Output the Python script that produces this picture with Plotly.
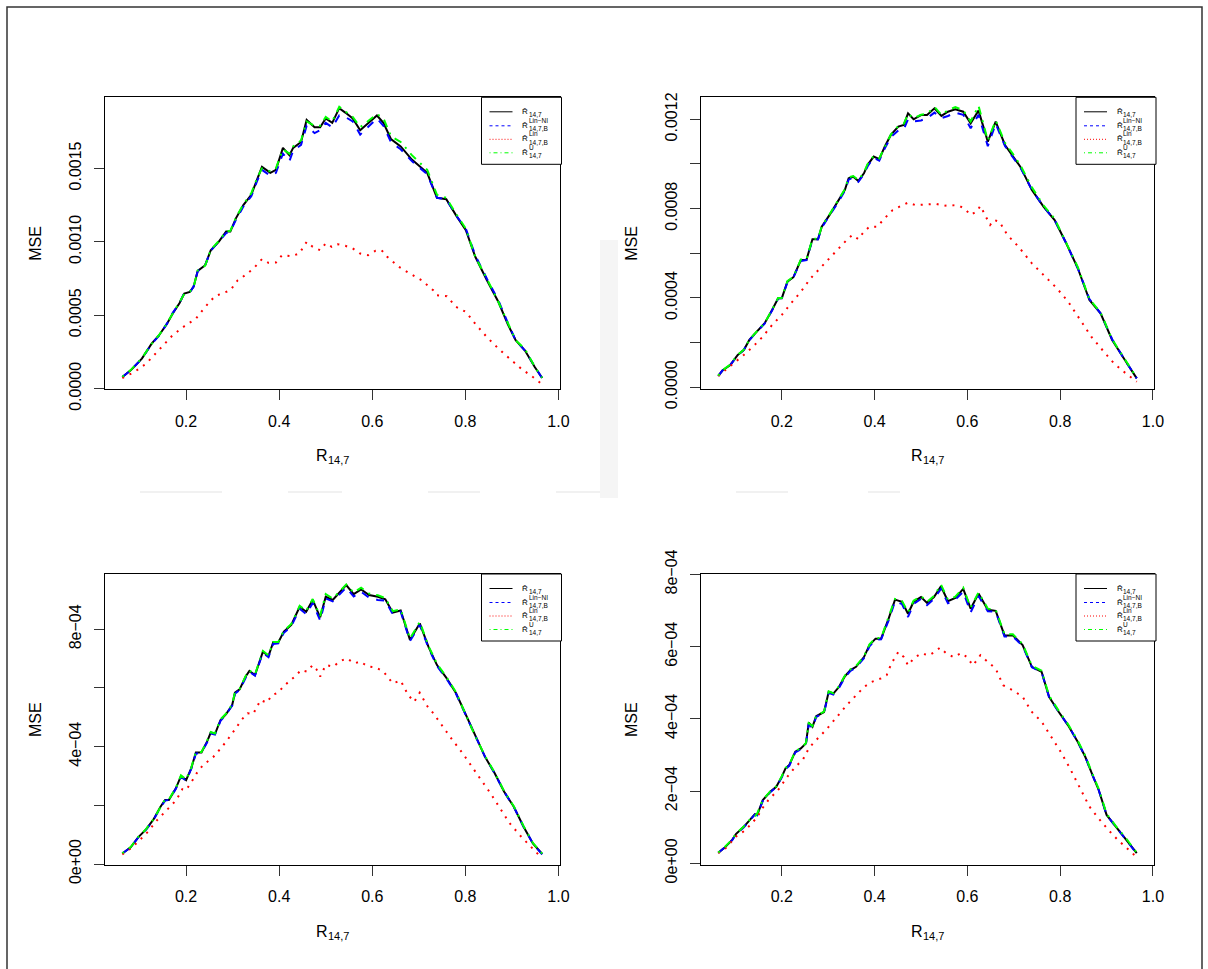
import plotly.graph_objects as go

# ---------------- data (MSE values in units of 1e-4) ----------------
SCALE = 1e-4

xA = [0.063,0.081,0.105,0.126,0.142,0.159,0.171,0.186,0.196,0.208,0.216,0.225,0.241,0.253,0.270,0.286,0.295,0.307,0.323,0.340,0.352,0.363,0.381,0.393,0.408,0.422,0.430,0.447,0.459,0.476,0.488,0.500,0.514,0.529,0.542,0.558,0.574,0.591,0.610,0.624,0.640,0.661,0.685,0.718,0.739,0.759,0.780,0.801,0.821,0.846,0.871,0.891,0.908,0.928,0.949,0.965]
A_black = [0.80,1.25,2.05,3.07,3.64,4.43,5.11,5.84,6.48,6.59,6.93,8.02,8.41,9.43,10.0,10.7,10.7,11.6,12.5,13.2,14.2,15.1,14.7,14.9,16.4,15.9,16.4,16.8,18.3,17.8,17.8,18.4,18.1,19.1,18.8,18.4,17.6,18.1,18.6,18.1,17.0,16.5,15.6,14.7,13.0,12.9,11.8,10.8,9.0,7.4,5.9,4.4,3.3,2.6,1.48,0.73]
A_blue = [0.80,1.25,2.05,3.05,3.62,4.43,5.15,5.84,6.52,6.55,6.95,8.00,8.41,9.40,10.0,10.6,10.7,11.5,12.4,13.1,14.1,14.9,14.5,14.7,16.0,15.5,16.2,16.6,17.9,17.4,17.6,18.1,17.8,18.6,18.5,18.2,17.3,17.8,18.4,17.9,16.8,16.3,15.5,14.6,13.0,12.9,11.8,10.9,9.1,7.5,6.0,4.5,3.3,2.6,1.5,0.70]
A_green = [0.82,1.27,2.08,3.05,3.66,4.45,5.10,5.86,6.45,6.62,6.90,8.05,8.38,9.45,10.05,10.7,10.75,11.65,12.55,13.3,14.3,15.0,14.8,15.0,16.3,16.0,16.5,16.9,18.2,17.9,17.9,18.5,18.2,19.2,18.9,18.5,17.8,18.2,18.7,18.4,17.2,16.8,15.9,14.9,13.2,13.0,11.9,10.9,9.0,7.5,5.9,4.5,3.3,2.7,1.5,0.75]
xA_red = [0.063,0.089,0.114,0.147,0.171,0.196,0.221,0.241,0.262,0.295,0.311,0.332,0.348,0.363,0.377,0.393,0.406,0.426,0.443,0.459,0.472,0.488,0.500,0.513,0.525,0.542,0.558,0.574,0.591,0.607,0.620,0.632,0.657,0.681,0.706,0.731,0.739,0.760,0.780,0.801,0.821,0.846,0.871,0.895,0.920,0.945,0.965]
A_red = [0.73,1.14,1.70,2.84,3.64,4.25,4.77,5.57,6.30,6.70,7.39,7.84,8.30,8.82,8.57,8.59,9.09,9.02,9.20,10.0,9.66,9.43,9.89,9.66,9.84,9.73,9.55,9.20,9.09,9.39,9.43,8.98,8.30,7.84,7.39,6.70,6.36,6.30,5.57,5.23,4.43,3.52,2.73,2.05,1.36,0.80,0.30]

xB = [0.063,0.072,0.089,0.105,0.118,0.130,0.146,0.163,0.179,0.192,0.200,0.212,0.225,0.241,0.253,0.266,0.278,0.286,0.303,0.319,0.336,0.344,0.354,0.365,0.377,0.385,0.398,0.410,0.422,0.435,0.451,0.463,0.472,0.484,0.500,0.513,0.529,0.544,0.558,0.574,0.591,0.607,0.624,0.644,0.661,0.681,0.698,0.714,0.739,0.764,0.788,0.813,0.838,0.863,0.887,0.912,0.937,0.965]
B_black = [0.51,0.75,1.00,1.45,1.67,2.12,2.49,2.87,3.46,3.99,3.99,4.73,4.93,5.70,5.70,6.63,6.63,7.19,7.72,8.24,8.84,9.36,9.43,9.24,9.58,9.96,10.33,10.21,10.78,11.30,11.67,11.75,12.27,12.00,12.19,12.19,12.49,12.15,12.34,12.45,12.34,11.82,12.39,11.00,11.90,10.85,10.33,9.88,8.84,8.09,7.49,6.45,5.33,3.91,3.31,2.12,1.30,0.40]
B_blue = [0.51,0.75,1.00,1.43,1.67,2.10,2.49,2.85,3.44,3.97,3.99,4.70,4.93,5.66,5.70,6.60,6.63,7.15,7.70,8.20,8.80,9.30,9.40,9.20,9.55,9.90,10.28,10.15,10.70,11.20,11.50,11.55,12.00,11.90,11.95,12.05,12.30,12.05,12.15,12.30,12.20,11.60,12.20,10.80,11.80,10.80,10.30,9.85,8.84,8.09,7.49,6.45,5.33,3.95,3.31,2.15,1.30,0.40]
B_green = [0.52,0.76,1.02,1.46,1.68,2.13,2.50,2.88,3.47,4.00,4.00,4.75,4.95,5.72,5.72,6.65,6.65,7.20,7.75,8.27,8.87,9.40,9.46,9.28,9.62,10.00,10.36,10.25,10.80,11.32,11.70,11.80,12.25,12.05,12.20,12.25,12.55,12.20,12.40,12.55,12.40,11.90,12.60,11.05,11.95,10.95,10.45,9.95,8.95,8.15,7.55,6.50,5.38,3.95,3.35,2.15,1.32,0.42]
xB_red = [0.063,0.081,0.097,0.118,0.138,0.159,0.179,0.200,0.221,0.241,0.262,0.282,0.303,0.323,0.340,0.352,0.365,0.377,0.389,0.406,0.418,0.439,0.455,0.472,0.488,0.509,0.533,0.550,0.566,0.583,0.595,0.607,0.620,0.628,0.636,0.649,0.657,0.669,0.686,0.710,0.739,0.768,0.793,0.817,0.842,0.867,0.891,0.916,0.941,0.965]
B_red = [0.51,0.81,1.07,1.45,1.82,2.27,2.79,3.24,3.79,4.28,4.88,5.33,5.78,6.22,6.60,6.82,6.63,6.97,7.19,7.19,7.49,7.94,8.09,8.27,8.16,8.19,8.21,8.13,8.16,8.12,7.97,7.72,7.87,8.12,7.79,7.27,7.49,7.42,6.82,6.30,5.55,4.96,4.43,3.84,3.03,2.27,1.67,1.07,0.63,0.25]

xC = [0.063,0.081,0.097,0.114,0.130,0.145,0.155,0.163,0.178,0.189,0.200,0.211,0.221,0.233,0.245,0.253,0.262,0.274,0.286,0.299,0.305,0.315,0.328,0.336,0.348,0.365,0.377,0.387,0.398,0.410,0.426,0.444,0.458,0.472,0.488,0.500,0.515,0.529,0.544,0.560,0.576,0.593,0.612,0.628,0.644,0.661,0.681,0.702,0.721,0.739,0.760,0.780,0.801,0.821,0.842,0.863,0.883,0.904,0.925,0.945,0.965]
C_black = [0.36,0.57,0.91,1.18,1.52,1.95,2.18,2.18,2.58,3.00,2.86,3.26,3.80,3.80,4.17,4.48,4.43,4.91,5.11,5.42,5.84,5.95,6.39,6.58,6.44,7.24,7.09,7.55,7.55,7.92,8.15,8.77,8.60,9.00,8.41,9.11,9.00,9.23,9.51,9.20,9.36,9.17,9.11,9.02,8.57,8.64,7.64,8.20,7.39,6.78,6.33,5.82,5.08,4.34,3.66,3.09,2.47,1.95,1.27,0.70,0.34]
C_blue = [0.36,0.57,0.90,1.17,1.50,1.93,2.16,2.18,2.56,2.97,2.84,3.24,3.76,3.80,4.14,4.45,4.41,4.88,5.10,5.40,5.80,5.93,6.35,6.55,6.42,7.20,7.05,7.50,7.52,7.88,8.10,8.70,8.52,8.90,8.30,9.05,8.95,9.18,9.42,9.12,9.28,9.08,9.00,8.98,8.52,8.60,7.60,8.15,7.36,6.75,6.30,5.80,5.08,4.34,3.66,3.09,2.47,1.95,1.27,0.70,0.33]
C_green = [0.37,0.58,0.92,1.19,1.53,1.96,2.20,2.20,2.60,3.02,2.88,3.28,3.82,3.82,4.19,4.50,4.45,4.93,5.13,5.44,5.86,5.97,6.41,6.60,6.46,7.26,7.11,7.57,7.57,7.95,8.18,8.80,8.63,9.03,8.45,9.20,9.05,9.27,9.53,9.25,9.42,9.22,9.16,9.06,8.62,8.68,7.68,8.25,7.42,6.82,6.36,5.85,5.11,4.36,3.69,3.11,2.49,1.97,1.29,0.72,0.35]
xC_red = [0.063,0.081,0.097,0.118,0.138,0.159,0.179,0.192,0.200,0.212,0.225,0.237,0.258,0.270,0.286,0.307,0.319,0.332,0.344,0.360,0.373,0.385,0.398,0.410,0.422,0.435,0.447,0.459,0.472,0.480,0.488,0.500,0.517,0.529,0.545,0.562,0.574,0.591,0.607,0.624,0.644,0.661,0.677,0.690,0.702,0.719,0.731,0.751,0.772,0.793,0.813,0.834,0.854,0.875,0.895,0.920,0.945,0.965]
C_red = [0.33,0.53,0.76,1.10,1.50,1.84,2.18,2.55,2.52,2.81,3.15,3.38,3.64,3.86,4.17,4.63,4.91,5.14,5.11,5.59,5.50,5.76,5.84,6.07,6.22,6.41,6.61,6.56,6.78,6.64,6.39,6.78,6.73,6.90,7.01,6.84,6.90,6.73,6.70,6.56,6.16,6.25,5.76,5.53,5.84,5.36,5.14,4.68,4.23,3.80,3.32,2.86,2.41,1.90,1.39,0.93,0.53,0.19]

xD = [0.063,0.077,0.093,0.101,0.118,0.134,0.142,0.147,0.159,0.175,0.188,0.200,0.208,0.216,0.229,0.241,0.252,0.258,0.266,0.274,0.291,0.301,0.311,0.323,0.336,0.348,0.360,0.377,0.389,0.402,0.414,0.430,0.444,0.459,0.472,0.484,0.500,0.513,0.528,0.543,0.558,0.574,0.591,0.607,0.624,0.644,0.661,0.680,0.698,0.719,0.739,0.760,0.776,0.797,0.817,0.838,0.854,0.871,0.883,0.900,0.920,0.941,0.965]
D_black = [0.29,0.44,0.65,0.81,1.01,1.24,1.36,1.34,1.75,1.98,2.12,2.40,2.63,2.72,3.09,3.18,3.32,3.89,3.78,4.07,4.19,4.75,4.70,4.88,5.18,5.35,5.44,5.71,6.04,6.22,6.22,6.77,7.30,7.24,6.91,7.24,7.37,7.21,7.37,7.67,7.26,7.35,7.60,7.05,7.47,7.02,6.99,6.31,6.31,6.04,5.44,5.30,4.61,4.19,3.82,3.36,2.95,2.40,2.03,1.34,1.01,0.69,0.28]
D_blue = [0.29,0.44,0.64,0.80,1.00,1.23,1.35,1.33,1.73,1.97,2.11,2.38,2.61,2.70,3.07,3.16,3.30,3.85,3.75,4.05,4.17,4.72,4.67,4.85,5.15,5.33,5.42,5.68,6.01,6.19,6.20,6.72,7.25,7.18,6.82,7.18,7.32,7.15,7.32,7.60,7.20,7.30,7.52,6.95,7.40,6.98,6.96,6.28,6.28,6.02,5.43,5.29,4.60,4.19,3.82,3.36,2.95,2.40,2.03,1.34,1.01,0.69,0.27]
D_green = [0.30,0.45,0.66,0.82,1.02,1.25,1.30,1.38,1.76,1.99,2.13,2.41,2.64,2.73,3.10,3.19,3.33,3.88,3.80,4.08,4.20,4.76,4.71,4.90,5.20,5.37,5.46,5.73,6.06,6.24,6.24,6.80,7.32,7.26,6.95,7.27,7.40,7.24,7.40,7.72,7.30,7.38,7.63,7.08,7.50,7.05,7.02,6.34,6.34,6.07,5.47,5.33,4.64,4.22,3.85,3.39,2.98,2.43,2.06,1.37,1.03,0.71,0.29]
xD_red = [0.063,0.081,0.101,0.122,0.138,0.147,0.155,0.171,0.192,0.212,0.229,0.245,0.258,0.270,0.295,0.319,0.340,0.360,0.377,0.393,0.414,0.426,0.436,0.451,0.463,0.472,0.484,0.500,0.517,0.529,0.541,0.554,0.570,0.587,0.599,0.612,0.628,0.640,0.661,0.677,0.698,0.719,0.739,0.760,0.780,0.801,0.821,0.842,0.863,0.883,0.904,0.924,0.945,0.965]
D_red = [0.28,0.44,0.74,0.92,1.15,1.27,1.47,1.75,2.03,2.40,2.67,2.86,3.18,3.36,3.69,4.06,4.38,4.65,4.88,5.02,5.12,5.21,5.53,5.85,5.71,5.48,5.67,5.81,5.76,5.85,5.97,5.82,5.71,5.82,5.71,5.48,5.76,5.62,5.39,4.93,4.79,4.61,4.19,3.92,3.50,3.09,2.63,2.12,1.57,1.24,0.92,0.65,0.41,0.17]

# ticks (labelled ticks + unlabelled minor ticks)
x_tickvals = [0.2, 0.4, 0.6, 0.8, 1.0]
x_ticktext = ["0.2", "0.4", "0.6", "0.8", "1.0"]
yA_tickvals = [0, 0.0005, 0.0010, 0.0015]
yA_ticktext = ["0.0000", "0.0005", "0.0010", "0.0015"]
yA_minor = []
yB_tickvals = [0, 0.0004, 0.0008, 0.0012]
yB_ticktext = ["0.0000", "0.0004", "0.0008", "0.0012"]
yB_minor = [0.0002, 0.0006, 0.0010]
yC_tickvals = [0, 0.0004, 0.0008]
yC_ticktext = ["0e+00", "4e\u221204", "8e\u221204"]
yC_minor = [0.0002, 0.0006]
yD_tickvals = [0, 0.0002, 0.0004, 0.0006, 0.0008]
yD_ticktext = ["0e+00", "2e\u221204", "4e\u221204", "6e\u221204", "8e\u221204"]
yD_minor = []

legend_sups = ["", "Lin\u2212NI", "Lin", "U"]
legend_subs = ["14,7", "14,7,B", "14,7,B", "14,7"]

# ---------------- layout helpers ----------------
W, H = 1208, 969
FONT = "Liberation Sans, Arial, Helvetica, sans-serif"


def fx(p):
    return p / W


def fy(p):
    return 1 - p / H


def txt(text, x, y, size, xanchor="left", angle=0):
    return dict(text=text, x=fx(x), y=fy(y), xref="paper", yref="paper", showarrow=False,
                xanchor=xanchor, yanchor="middle", textangle=angle, borderpad=0,
                font=dict(family=FONT, size=size, color="black"))


panels = [
    dict(x=xA, xr=xA_red, blk=A_black, blu=A_blue, grn=A_green, red=A_red,
         xpx=(104.5, 559.5), ypx=(97.3, 389.3), yrange=[-0.000004, 0.001984],
         tv=yA_tickvals, tt=yA_ticktext, mn=yA_minor),
    dict(x=xB, xr=xB_red, blk=B_black, blu=B_blue, grn=B_green, red=B_red,
         xpx=(700.5, 1154.0), ypx=(97.3, 389.3), yrange=[-0.000009, 0.0012985],
         tv=yB_tickvals, tt=yB_ticktext, mn=yB_minor),
    dict(x=xC, xr=xC_red, blk=C_black, blu=C_blue, grn=C_green, red=C_red,
         xpx=(104.5, 559.5), ypx=(574.0, 865.0), yrange=[-0.0000034, 0.0009885],
         tv=yC_tickvals, tt=yC_ticktext, mn=yC_minor),
    dict(x=xD, xr=xD_red, blk=D_black, blu=D_blue, grn=D_green, red=D_red,
         xpx=(700.5, 1154.0), ypx=(574.0, 865.0), yrange=[-0.0000047, 0.000801],
         tv=yD_tickvals, tt=yD_ticktext, mn=yD_minor),
]

fig = go.Figure()
layout = dict(width=W, height=H, margin=dict(l=0, r=0, t=0, b=0, pad=0), autosize=False,
              paper_bgcolor="white", plot_bgcolor="white", showlegend=False,
              font=dict(family=FONT, color="black"))
shapes = []
annotations = []

# faint watermark remnants of the scanned page
for (a, b) in [(140, 222), (288, 342), (428, 480), (556, 600), (736, 788), (868, 900)]:
    shapes.append(dict(type="line", xref="paper", yref="paper", x0=fx(a), x1=fx(b), y0=fy(492), y1=fy(492),
                       line=dict(color="#f1f1f1", width=2), layer="below"))
shapes.append(dict(type="rect", xref="paper", yref="paper", x0=fx(600), x1=fx(618), y0=fy(498), y1=fy(240),
                   line=dict(width=0), fillcolor="#f5f5f5", layer="below"))

for i, p in enumerate(panels, start=1):
    xa = "x" if i == 1 else f"x{i}"
    ya = "y" if i == 1 else f"y{i}"
    sc = lambda v: [val * SCALE for val in v]
    fig.add_trace(go.Scatter(x=p["x"], y=sc(p["blk"]), mode="lines", xaxis=xa, yaxis=ya,
                             line=dict(color="black", width=2), name="R14,7"))
    fig.add_trace(go.Scatter(x=p["x"], y=sc(p["blu"]), mode="lines", xaxis=xa, yaxis=ya,
                             line=dict(color="#0000FF", width=2, dash="8px,8px"), name="Lin-NI"))
    fig.add_trace(go.Scatter(x=p["xr"], y=sc(p["red"]), mode="lines", xaxis=xa, yaxis=ya,
                             line=dict(color="#FF0000", width=2, dash="2px,6px"), name="Lin"))
    fig.add_trace(go.Scatter(x=p["x"], y=sc(p["grn"]), mode="lines", xaxis=xa, yaxis=ya,
                             line=dict(color="#00FF00", width=2, dash="2px,6px,8px,6px"), name="U"))

    x0, x1 = p["xpx"]
    y0, y1 = p["ypx"]
    key = "" if i == 1 else str(i)
    layout["xaxis" + key] = dict(
        domain=[fx(x0), fx(x1)], range=[0.0247, 1.0022], anchor=ya, automargin=False,
        tickmode="array", tickvals=x_tickvals, ticktext=x_ticktext, ticklabelstandoff=7,
        showline=True, mirror=True, linecolor="black", linewidth=1,
        ticks="outside", ticklen=10, tickwidth=1, tickcolor="#333",
        showgrid=False, zeroline=False, tickfont=dict(family=FONT, size=16, color="black"))
    yax = dict(
        domain=[fy(y1), fy(y0)], range=p["yrange"], anchor=xa, automargin=False,
        tickmode="array", tickvals=p["tv"], ticktext=p["tt"], tickangle=-90, ticklabelstandoff=6,
        showline=True, mirror=True, linecolor="black", linewidth=1,
        ticks="outside", ticklen=10, tickwidth=1, tickcolor="#333",
        showgrid=False, zeroline=False, tickfont=dict(family=FONT, size=16, color="black"))
    if p["mn"]:
        yax["minor"] = dict(tickmode="array", tickvals=p["mn"], ticks="outside", ticklen=10,
                            tickwidth=1, tickcolor="#333", showgrid=False)
    layout["yaxis" + key] = yax

    # axis titles
    annotations.append(txt("MSE", x0 - 69, (y0 + y1) / 2, 16, xanchor="center", angle=-90))
    cx = (x0 + x1) / 2
    annotations.append(txt("R", cx - 17, y1 + 66, 16))
    annotations.append(txt("14,7", cx - 5, y1 + 71, 11))

    # legend box (R style)
    lr = x1 + 2
    ll = lr - 80
    lt = y0
    lb = lt + 67
    shapes.append(dict(type="rect", xref="paper", yref="paper", x0=fx(ll), x1=fx(lr), y0=fy(lb), y1=fy(lt),
                       line=dict(color="black", width=1), fillcolor="white", layer="above"))
    rows = [14.5, 28.5, 42.0, 55.5]
    styles = [("black", "solid"), ("#0000FF", "3px,3px"), ("#FF0000", "1px,2px"), ("#00FF00", "1px,3px,4px,3px")]
    for r, (col, dsh), sp, sb in zip(rows, styles, legend_sups, legend_subs):
        yy = lt + r
        shapes.append(dict(type="line", xref="paper", yref="paper", x0=fx(ll + 8), x1=fx(ll + 31),
                           y0=fy(yy), y1=fy(yy), line=dict(color=col, width=1, dash=dsh), layer="above"))
        annotations.append(txt("R\u0302", ll + 39.5, yy - 0.5, 8))
        annotations.append(txt(sb, ll + 46, yy + 2.8, 6.5))
        if sp:
            annotations.append(txt(sp, ll + 46, yy - 5.5, 6.5))

# outer frame
shapes.append(dict(type="rect", xref="paper", yref="paper", x0=fx(7), x1=fx(1202), y0=fy(975), y1=fy(7),
                   line=dict(color="#333", width=1.5), fillcolor="rgba(0,0,0,0)"))

layout["shapes"] = shapes
layout["annotations"] = annotations
fig.update_layout(**layout)

pin_page = (
    "document.documentElement.style.margin='0';"
    "document.documentElement.style.overflow='hidden';"
    "document.body.style.margin='0';"
    "document.body.style.overflow='hidden';"
    "var gd=document.getElementById('{plot_id}');"
    "gd.style.position='absolute';gd.style.left='0px';gd.style.top='0px';"
)
fig.write_html("out.html", post_script=pin_page, config={"displayModeBar": False})
